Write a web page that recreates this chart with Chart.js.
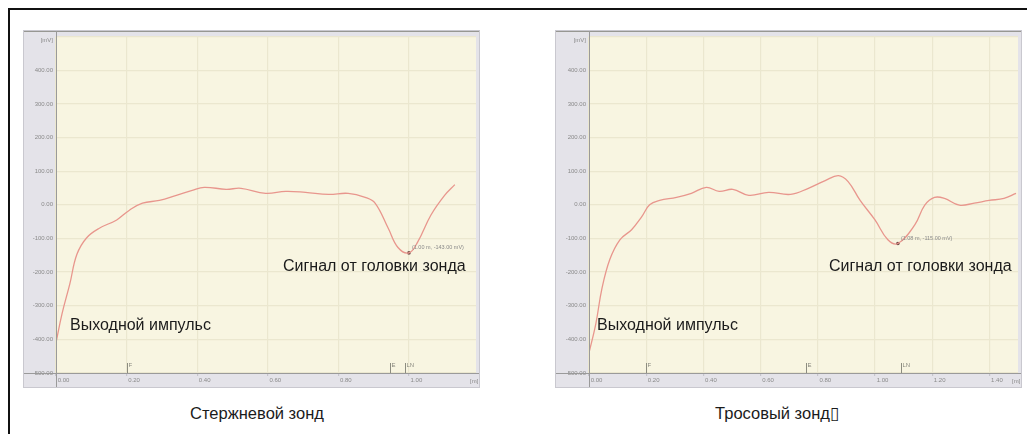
<!DOCTYPE html>
<html>
<head>
<meta charset="utf-8">
<script src="https://cdn.jsdelivr.net/npm/chart.js@4.4.0/dist/chart.umd.min.js"></script>
<style>
  body { margin:0; width:1027px; height:434px; background:#fff; position:relative; overflow:hidden;
         font-family:"Liberation Sans", Arial, sans-serif; }
  #frame { position:absolute; left:8px; top:8px; width:1040px; height:440px;
           border-top:2px solid #111; border-left:2px solid #111; }
  canvas { position:absolute; }
  .note { position:absolute; font-size:16px; line-height:18px; color:#1b1b1b; white-space:nowrap; }
  .cap { position:absolute; top:404px; width:320px; text-align:center; font-size:16.5px; color:#1b1b1b; white-space:nowrap; }
</style>
</head>
<body>
<div id="frame"></div>
<canvas id="rod" width="457" height="358" style="left:23px;top:30px"></canvas>
<canvas id="rope" width="467" height="358" style="left:555px;top:30px"></canvas>

<div class="note" style="left:70px;top:316px">Выходной импульс</div>
<div class="note" style="left:283px;top:257px">Сигнал от головки зонда</div>
<div class="note" style="left:597px;top:316px">Выходной импульс</div>
<div class="note" style="left:829px;top:257px">Сигнал от головки зонда</div>

<div class="cap" style="left:97px">Стержневой зонд</div>
<div class="cap" style="left:617px">Тросовый зонд▯</div>

<script>
// rod probe (left)
const rodDist = [0, 0.017, 0.039, 0.059, 0.087, 0.124, 0.172, 0.208, 0.245, 0.293, 0.341, 0.386, 0.42, 0.482, 0.524, 0.594, 0.651, 0.707, 0.772, 0.828, 0.876, 0.904, 0.941, 0.969, 1.0, 1.025, 1.062, 1.101, 1.13];
const rodAmp  = [-410, -324, -236, -148, -98, -69, -45, -16, 5, 13, 28, 43, 52, 46, 49, 34, 40, 37, 31, 34, 22, 5, -69, -127, -143, -110, -31, 28, 60];
const rodMarks = [['F', 0.2], ['E', 0.946], ['LN', 0.99]];
const rodMin = [1.0, -143];

// rope probe (right)
const ropeDist = [0, 0.024, 0.045, 0.073, 0.108, 0.149, 0.184, 0.212, 0.247, 0.306, 0.358, 0.41, 0.455, 0.503, 0.559, 0.628, 0.705, 0.767, 0.826, 0.872, 0.906, 0.948, 1.0, 1.045, 1.08, 1.139, 1.174, 1.208, 1.243, 1.295, 1.347, 1.399, 1.451, 1.493];
const ropeAmp  = [-440, -353, -250, -162, -104, -74, -36, 0, 13, 22, 34, 52, 40, 46, 28, 37, 31, 49, 72, 87, 69, 13, -45, -104, -115, -60, -1, 22, 19, -1, 5, 13, 19, 34];
const ropeMarks = [['F', 0.2], ['E', 0.757], ['LN', 1.09]];
const ropeMin = [1.08, -115];

const yMin = -500, yMax = 500, yStep = 100;
const xStep = 0.2;

const panelPlugin = {
  id: 'panel',
  beforeDraw(chart) {
    const { ctx, chartArea: a, width, height } = chart;
    ctx.save();
    ctx.fillStyle = '#e4e3e9';
    ctx.fillRect(0, 0, width, height);
    ctx.fillStyle = '#f8f5e1';
    ctx.fillRect(a.left, a.top, a.right - a.left, a.bottom - a.top);
    ctx.restore();
  },
  afterDraw(chart) {
    const o = chart.options.plugins.panel;
    const { ctx, chartArea: a, width, height, scales } = chart;
    const xs = scales.x, ys = scales.y;
    ctx.save();
    // frame lines
    ctx.strokeStyle = '#7e7e74';
    ctx.lineWidth = 1.5;
    ctx.beginPath(); ctx.moveTo(0, 1); ctx.lineTo(width, 1); ctx.stroke();
    ctx.strokeStyle = '#9a9a9a';
    ctx.lineWidth = 1;
    ctx.beginPath();
    ctx.moveTo(a.left + 0.5, 0); ctx.lineTo(a.left + 0.5, height);
    ctx.moveTo(0, a.bottom + 0.5); ctx.lineTo(width, a.bottom + 0.5);
    ctx.stroke();
    ctx.strokeStyle = '#c9c8cf';
    ctx.strokeRect(0.5, 0.5, width - 1, height - 1);

    ctx.font = '6px "Liberation Sans", Arial';
    ctx.fillStyle = '#8a8a8a';
    ctx.textBaseline = 'middle';
    ctx.textAlign = 'right';
    ctx.fillText('[mV]', a.left - 3, a.top + 4);
    ctx.textAlign = 'left';
    ctx.fillText('[m]', a.right - 6, a.bottom + 8);

    // F / E / LN markers
    ctx.strokeStyle = '#8c8c80';
    o.marks.forEach(([name, v]) => {
      const px = Math.round(xs.getPixelForValue(v)) + 0.5;
      ctx.beginPath(); ctx.moveTo(px, a.bottom - 10); ctx.lineTo(px, a.bottom); ctx.stroke();
      ctx.fillStyle = '#8a8a80';
      ctx.fillText(name, px + 1, a.bottom - 8);
    });

    // minimum point label
    const [mx, my] = o.minPt;
    const px = xs.getPixelForValue(mx), py = ys.getPixelForValue(my);
    ctx.fillStyle = '#8a8a8a';
    ctx.font = '5.5px "Liberation Sans", Arial';
    ctx.fillText('(' + mx.toFixed(2) + ' m, ' + my.toFixed(2) + ' mV)', px + 3, py - 5);
    ctx.restore();
  }
};

function makeChart(id, dist, amp, xMax, marks, minPt, yAxisW, padRight) {
  const pts = dist.map((d, i) => ({ x: d, y: amp[i] }));
  new Chart(document.getElementById(id), {
    type: 'line',
    data: {
      datasets: [
        { data: pts, borderColor: '#e8968d', borderWidth: 1.3, pointRadius: 0,
          tension: 0.4, fill: false },
        { data: [{ x: minPt[0], y: minPt[1] }], showLine: false, pointRadius: 1.8,
          pointBackgroundColor: '#6e4a46', pointBorderWidth: 0 }
      ]
    },
    options: {
      responsive: false,
      animation: false,
      devicePixelRatio: 1,
      layout: { padding: { top: 2, right: padRight, left: 0, bottom: 0 } },
      plugins: { legend: { display: false }, tooltip: { enabled: false },
                 panel: { marks: marks, minPt: minPt } },
      scales: {
        x: {
          type: 'linear', min: 0, max: xMax,
          afterFit(s) { s.height = 15; },
          border: { display: false },
          grid: { color: '#ebe7cf', lineWidth: 1.2, tickLength: 3, tickColor: '#c6c5cc' },
          ticks: { stepSize: xStep, includeBounds: false, align: 'start', padding: 1,
                   color: '#8a8a8a', font: { size: 6, family: '"Liberation Sans", Arial' },
                   maxRotation: 0, autoSkip: false,
                   callback: v => ' ' + Number(v).toFixed(2) }
        },
        y: {
          type: 'linear', min: yMin, max: yMax,
          afterFit(s) { s.width = yAxisW; },
          border: { display: false },
          grid: { color: '#ebe7cf', lineWidth: 1.2, drawTicks: false },
          ticks: { stepSize: yStep, padding: 3, color: '#8a8a8a',
                   font: { size: 6, family: '"Liberation Sans", Arial' },
                   callback: v => v >= yMax ? '' : Number(v).toFixed(2) }
        }
      }
    },
    plugins: [panelPlugin]
  });
}

makeChart('rod', rodDist, rodAmp, 1.19, rodMarks, rodMin, 33, 2);
makeChart('rope', ropeDist, ropeAmp, 1.5, ropeMarks, ropeMin, 34, 3);
</script>
</body>
</html>
